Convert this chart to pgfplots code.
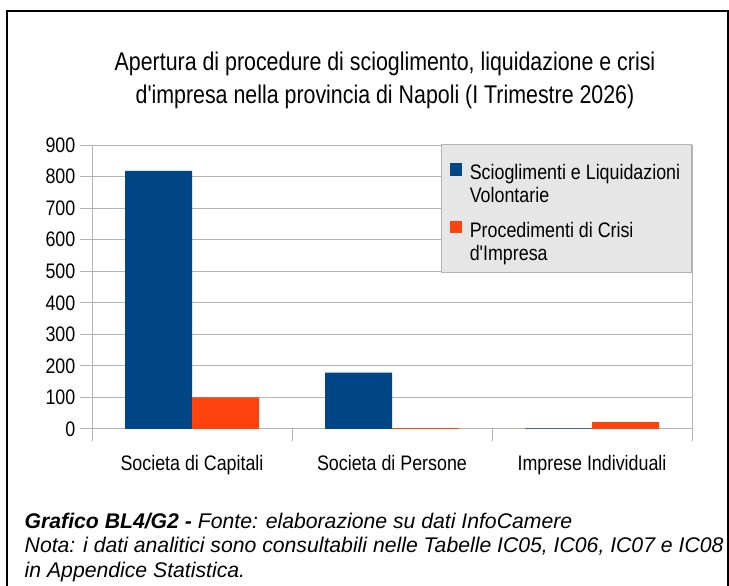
\documentclass[border=0pt]{standalone}
\usepackage{fontspec}
\setmainfont{Liberation Sans}
\newfontfamily\chartfont[FakeStretch=0.85]{Liberation Sans}
\newfontfamily\titlefont[FakeStretch=0.835]{Liberation Sans}
\usepackage{pgfplots}
\pgfplotsset{compat=1.18}
\definecolor{serA}{HTML}{004586}
\definecolor{serB}{HTML}{FF420E}
\definecolor{gridgray}{HTML}{B3B3B3}
\definecolor{leggray}{HTML}{E6E6E6}
\begin{document}
\begin{tikzpicture}[x=0.75pt,y=0.75pt]
\useasboundingbox (0,0) rectangle (729,586);
% outer frame (open at bottom)
\draw[black,line width=1.1pt] (7,-5) -- (7,575) -- (728,575) -- (728,-5);
% title
\node[anchor=base,font=\titlefont\fontsize{19.2}{23}\selectfont] at (385,515) {Apertura di procedure di scioglimento, liquidazione e crisi};
\node[anchor=base,font=\titlefont\fontsize{19.2}{23}\selectfont] at (385,482) {d'impresa nella provincia di Napoli (I Trimestre 2026)};
\begin{axis}[
  at={(69pt,117.75pt)}, anchor=south west,
  scale only axis, width=450pt, height=213pt,
  xmin=0, xmax=3, ymin=0, ymax=900,
  ytick={0,100,...,900},
  xtick={0.5,1.5,2.5},
  xticklabels={Societa di Capitali,Societa di Persone,Imprese Individuali},
  minor xtick={0,1,2,3},
  major x tick style={draw=none},
  xtick pos=bottom, ytick pos=left,
  tick align=outside,
  major tick length=9pt, minor tick length=9pt,
  ymajorgrids,
  grid style={gridgray,line width=0.75pt},
  axis line style={gridgray,line width=0.75pt},
  tick style={gridgray,line width=0.75pt},
  /pgf/number format/assume math mode=true,
  yticklabel style={font=\chartfont\fontsize{15.75}{18}\selectfont,black},
  xticklabel style={font=\chartfont\fontsize{15.75}{18}\selectfont,black,anchor=base,yshift=-22pt},
  ybar=0pt, bar width=50.25pt,
  legend image code/.code={\fill[#1] (0pt,20.45pt) rectangle (9.4pt,29.85pt);},
  legend style={at={(rel axis cs:1,1.003)}, anchor=north east, draw=gridgray, fill=leggray,
    line width=0.75pt, font=\chartfont\fontsize{15.75}{17.25}\selectfont,
    inner xsep=6.5pt, inner ysep=5.6pt, row sep=8.5pt,
    /tikz/column 1/.style={column sep=3.5pt},
    cells={anchor=base west, align=left, inner sep=0pt}},
]
\addplot[fill=serA,draw=none] coordinates {(0.5,818) (1.5,179) (2.5,2)};
\addplot[fill=serB,draw=none] coordinates {(0.5,100) (1.5,3) (2.5,22)};
\legend{\rule{0pt}{18.75pt}Scioglimenti e Liquidazioni\\\strut Volontarie,
  \strut Procedimenti di Crisi\\\strut d'Impresa}
\end{axis}
\node[anchor=base west,font=\fontsize{15.9}{19}\selectfont\itshape] at (20,57) {\textbf{Grafico BL4/G2 -} Fonte: elaborazione su dati InfoCamere};
\node[anchor=base west,font=\fontsize{15.9}{19}\selectfont\itshape] at (20,33) {Nota: i dati analitici sono consultabili nelle Tabelle IC05, IC06, IC07 e IC08};
\node[anchor=base west,font=\fontsize{15.9}{19}\selectfont\itshape] at (20,8) {in Appendice Statistica.};
\end{tikzpicture}
\end{document}
